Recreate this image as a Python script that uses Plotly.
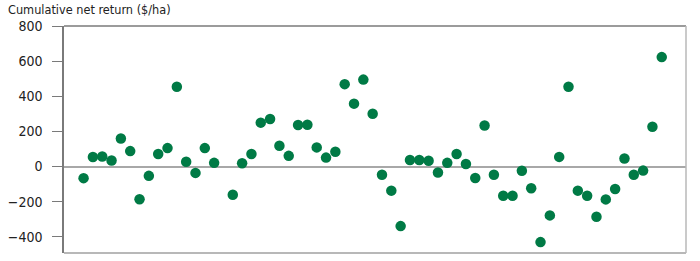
import plotly.graph_objects as go

seasons = list(range(63))
net_return = [-66, 54, 57, 34, 160, 88, -186, -53, 71, 105,
              454, 27, -36, 105, 21, None, -160, 19, 71, 250,
              271, 118, 61, 237, 238, 109, 51, 84, 469, 358,
              495, 301, -47, -137, -339, 37, 37, 33, -34, 21,
              71, 15, -65, 234, -47, -166, -166, -24, -123, -430,
              -278, 55, 454, -137, -166, -286, -187, -128, 46, -47,
              -23, 227, 623]
y_ticks = [-400, -200, 0, 200, 400, 600, 800]

FONT = "DejaVu Sans Condensed, Lato, sans-serif"

fig = go.Figure()
fig.add_trace(go.Scatter(
    x=seasons, y=net_return, mode="markers",
    marker=dict(size=10.5, color="#007A45", line=dict(width=0)),
    hoverinfo="y", showlegend=False,
))

fig.update_layout(
    width=700, height=261,
    margin=dict(l=59, r=14, t=26, b=8),
    paper_bgcolor="white", plot_bgcolor="white",
    font=dict(family=FONT, size=14, color="#222"),
    title=dict(text="Cumulative net return ($/ha)", x=8/700, xref="container", xanchor="left",
               y=1-10/261, yref="container", yanchor="middle",
               font=dict(family=FONT, size=12.6, color="#222")),
    xaxis=dict(range=[-2.1, 64.6], showgrid=False, zeroline=False, showticklabels=False,
               ticks="", showline=False),
    yaxis=dict(range=[-492, 800], tickvals=y_ticks, showgrid=False,
               zeroline=True, zerolinecolor="#a8a8a8", zerolinewidth=1.5,
               showline=True, linecolor="#7a7a7a", linewidth=1.5,
               ticks="outside", ticklen=10, tickcolor="#7a7a7a", tickwidth=1.2,
               ticklabelstandoff=7),
    shapes=[
        dict(type="line", xref="paper", yref="paper", x0=0, x1=1, y0=1, y1=1,
             line=dict(color="#7a7a7a", width=1.5)),
        dict(type="line", xref="paper", yref="paper", x0=1, x1=1, y0=0, y1=1,
             line=dict(color="#b8b8b8", width=1.5)),
        dict(type="line", xref="paper", yref="paper", x0=0, x1=1, y0=0, y1=0,
             line=dict(color="#b8b8b8", width=2)),
    ],
)

fig.write_html("out.html")
